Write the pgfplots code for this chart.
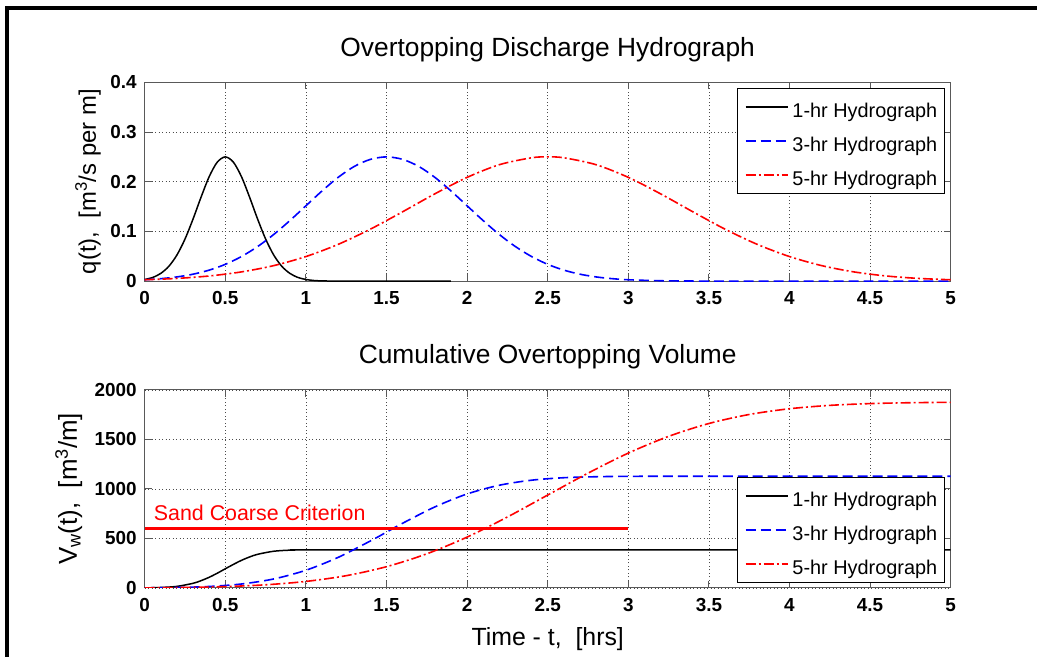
\documentclass[border=0pt]{standalone}
\usepackage{pgfplots}
\pgfplotsset{compat=1.18}
\usepackage{fontspec}
\setmainfont{Liberation Sans}

\pgfplotsset{
 mystyle/.style={
  scale only axis, width=807.5bp, height=199.2bp, anchor=south west,
  xmin=0, xmax=5, xtick={0,0.5,1,1.5,2,2.5,3,3.5,4,4.5,5},
  axis line style={black!65, line width=0.9bp},
  every tick/.style={black!65, line width=0.9bp},
  major tick length=7bp,
  tick align=inside,
  grid=major,
  major grid style={black!70, line width=0.7bp, dash pattern=on 1bp off 2.5bp},
  tick label style={font=\bfseries\fontsize{19}{22}\selectfont},
  /pgf/number format/assume math mode=true,
  /pgf/number format/1000 sep={},
  scaled ticks=false,
  xticklabel style={inner sep=0bp, yshift=-10bp},
  yticklabel style={inner sep=0bp, xshift=-8bp},
  title style={font=\fontsize{26.5}{30}\selectfont, anchor=base, at={(axis description cs:0.5,1)}},
  legend cell align=left,
  legend style={draw=black, line width=0.9bp, fill=white, inner xsep=7.5bp, inner ysep=2bp, row sep=1bp,
    nodes={inner sep=0bp, text height=27bp, text depth=6bp, font=\fontsize{20}{24}\selectfont},
    /tikz/every odd column/.append style={column sep=4bp}},
  legend image code/.code={\draw[#1] (0bp,0bp) -- (42bp,0bp);},
 },
 c1/.style={black, solid, line width=1.5bp},
 c3/.style={blue, line width=1.6bp, dash pattern=on 10bp off 5bp},
 c5/.style={red, line width=1.6bp, dash pattern=on 10bp off 3bp on 2bp off 3bp},
}

\begin{document}
\begin{tikzpicture}[x=1bp,y=1bp]
\path (0,0) rectangle (1039,658);
\draw[line width=4bp, line join=miter] (7,0) -- (7,650) -- (1039,650);

% Top axis
\begin{axis}[mystyle, at={(145bp,376.3bp)},
  ymin=0, ymax=0.4, ytick={0,0.1,0.2,0.3,0.4},
  title={Overtopping Discharge Hydrograph},
  title style={yshift=19.5bp},
  ylabel={q(t),\ \ [m\textsuperscript{3}/s per m]},
  ylabel style={at={(axis description cs:-0.0607,0.5)}, anchor=base, font=\fontsize{24}{28}\selectfont},
  legend style={at={(axis description cs:1,1)}, anchor=north east, xshift=-5.5bp, yshift=-5.8bp},
]
\addplot[c1, smooth] coordinates {(0,0.0033)(0.05,0.0075)(0.1,0.0157)(0.15,0.0300)(0.2,0.0527)(0.25,0.0848)(0.3,0.1252)(0.35,0.1694)(0.4,0.2103)(0.45,0.2394)(0.5,0.25)(0.55,0.2394)(0.6,0.2103)(0.65,0.1694)(0.7,0.1252)(0.75,0.0848)(0.8,0.0527)(0.85,0.0300)(0.9,0.0157)(0.95,0.0075)(1.0,0.0033)(1.05,0.0013)(1.1,0.0005)(1.2,0.0001)(1.5,0)(1.9,0)};
\addlegendentry{1-hr Hydrograph}
\addplot[c3, smooth] coordinates {(0,0.0028)(0.1,0.0050)(0.2,0.0085)(0.3,0.0140)(0.4,0.0222)(0.5,0.0338)(0.6,0.0495)(0.7,0.0695)(0.8,0.0938)(0.9,0.1217)(1.0,0.1516)(1.1,0.1815)(1.2,0.2088)(1.3,0.2308)(1.4,0.2450)(1.5,0.25)(1.6,0.2450)(1.7,0.2308)(1.8,0.2088)(1.9,0.1815)(2.0,0.1516)(2.1,0.1217)(2.2,0.0938)(2.3,0.0695)(2.4,0.0495)(2.5,0.0338)(2.6,0.0222)(2.7,0.0140)(2.8,0.0085)(2.9,0.0050)(3.0,0.0028)(3.2,0.0008)(3.4,0.0002)(3.6,0.00004)(4,0)(5,0)};
\addlegendentry{3-hr Hydrograph}
\addplot[c5, smooth] coordinates {(0,0.0028)(0.2,0.0055)(0.4,0.0104)(0.6,0.0186)(0.8,0.0312)(1.0,0.0495)(1.2,0.0740)(1.4,0.1046)(1.6,0.1396)(1.8,0.1757)(2.0,0.2088)(2.2,0.2343)(2.4,0.2482)(2.5,0.25)(2.6,0.2482)(2.8,0.2343)(3.0,0.2088)(3.2,0.1757)(3.4,0.1396)(3.6,0.1046)(3.8,0.0740)(4.0,0.0495)(4.2,0.0312)(4.4,0.0186)(4.6,0.0104)(4.8,0.0055)(5.0,0.0028)};
\addlegendentry{5-hr Hydrograph}
\end{axis}

% Bottom axis
\begin{axis}[mystyle, at={(145bp,69bp)}, height=198.3bp,
  ymin=0, ymax=2000, ytick={0,500,1000,1500,2000},
  title={Cumulative Overtopping Volume},
  title style={yshift=21bp},
  xlabel={Time - t,\ \ [hrs]},
  xlabel style={at={(axis description cs:0.5,0)}, anchor=base, yshift=-57.7bp, font=\fontsize{25}{29}\selectfont},
  ylabel={V\textsubscript{w}(t),\ \ [m\textsuperscript{3}/m]},
  ylabel style={at={(axis description cs:-0.0842,0.5)}, anchor=base, font=\fontsize{26}{30}\selectfont},
  legend style={at={(axis description cs:1,0)}, anchor=south east, xshift=-5.5bp, yshift=5bp},
]
\addplot[c1, smooth] coordinates {(0,0)(0.1,4)(0.2,15)(0.3,46)(0.35,73)(0.4,107)(0.45,148)(0.5,193)(0.55,237)(0.6,278)(0.65,312)(0.7,339)(0.8,370)(0.9,381)(1.0,384)(1.2,385)(5,385)};
\addlegendentry{1-hr Hydrograph}
\addplot[c3, smooth] coordinates {(0,0)(0.2,4)(0.4,14)(0.6,39)(0.8,90)(1.0,178)(1.2,308)(1.4,474)(1.5,563)(1.6,653)(1.8,818)(2.0,949)(2.2,1037)(2.4,1088)(2.6,1113)(2.8,1123)(3.0,1127)(3.5,1128)(5,1128)};
\addlegendentry{3-hr Hydrograph}
\addplot[c5, smooth] coordinates {(0,0)(0.25,4)(0.5,13)(0.75,31)(1.0,65)(1.25,123)(1.5,214)(1.75,344)(2.0,513)(2.25,716)(2.5,938)(2.75,1159)(3.0,1362)(3.25,1531)(3.5,1661)(3.75,1752)(4.0,1810)(4.25,1844)(4.5,1862)(4.75,1871)(5.0,1875)};
\addlegendentry{5-hr Hydrograph}
\addplot[red, line width=3.5bp, forget plot] coordinates {(0,600)(3,600)};
\node[red, anchor=base west, inner sep=0bp, font=\fontsize{21.5}{25}\selectfont] at (axis cs:0.056,679) {Sand Coarse Criterion};
\end{axis}
\end{tikzpicture}
\end{document}
